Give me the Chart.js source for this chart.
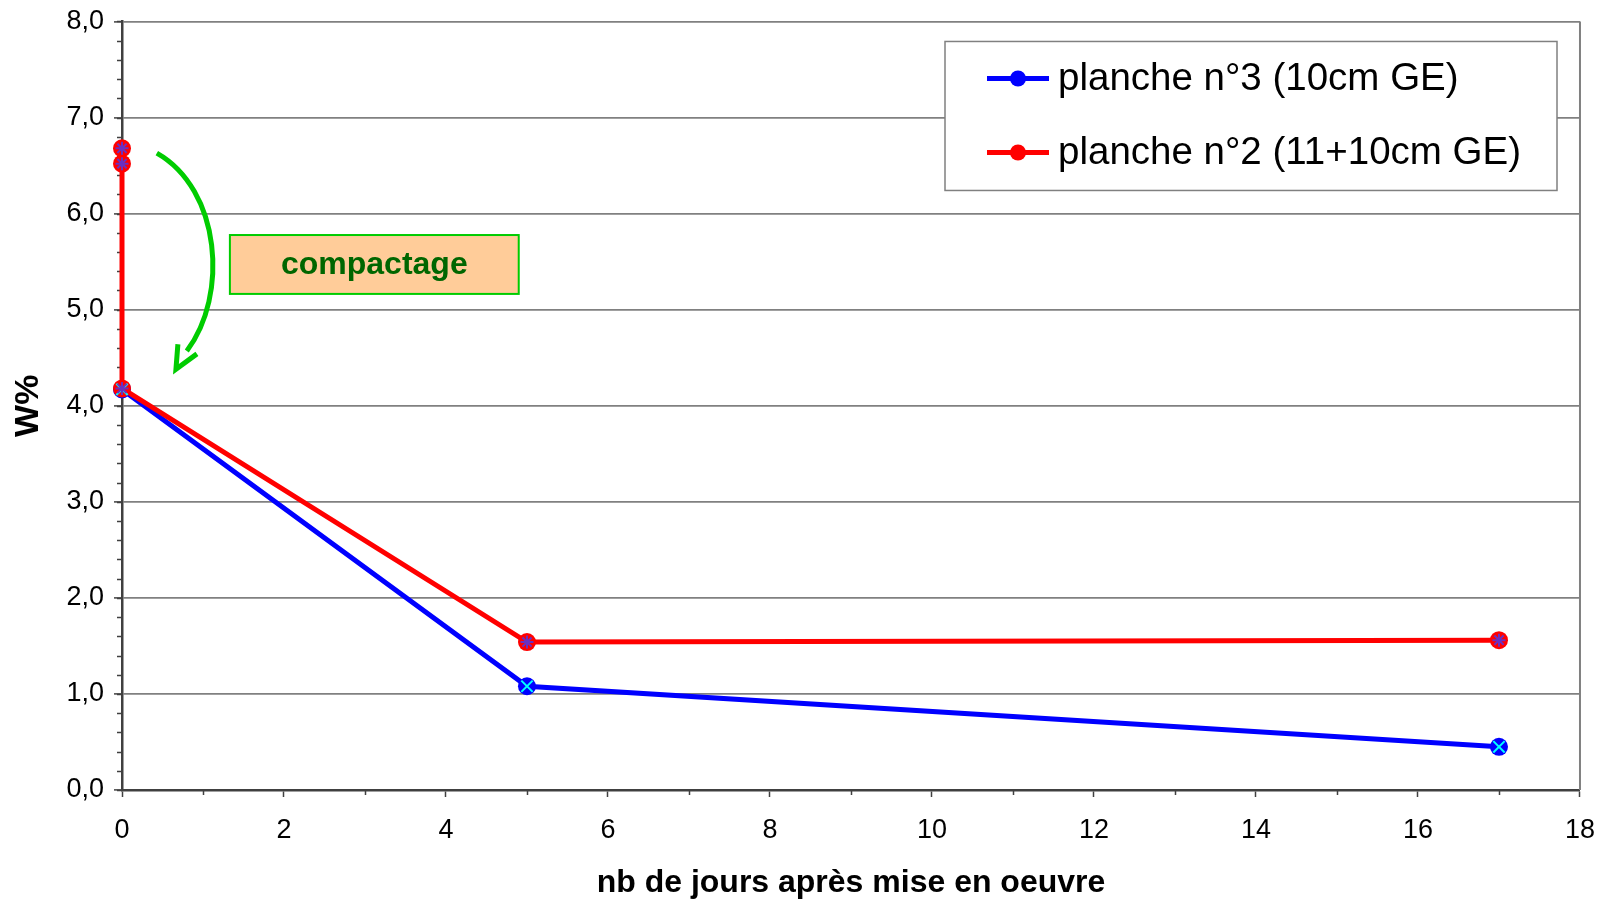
<!DOCTYPE html>
<html>
<head>
<meta charset="utf-8">
<script src="https://cdn.jsdelivr.net/npm/chart.js@4/dist/chart.umd.min.js"></script>
<style>
  html, body { margin: 0; padding: 0; background: #fff; }
  #wrap { width: 1612px; height: 901px; }
</style>
</head>
<body>
<div id="wrap"><canvas id="c" width="1612" height="901"></canvas></div>
<script>
// ---- data ----
const seriesNames = ['planche n°3 (10cm GE)', 'planche n°2 (11+10cm GE)'];
const daysP3 = [0, 5, 17];
const wP3 = [4.17, 1.08, 0.45];
const daysP2 = [0, 0, 0, 5, 17];
const wP2 = [6.68, 6.52, 4.18, 1.54, 1.56];
const yTicks = [0, 1, 2, 3, 4, 5, 6, 7, 8];
const xTicks = [0, 2, 4, 6, 8, 10, 12, 14, 16, 18];
const xTitle = 'nb de jours après mise en oeuvre';
const yTitle = 'W%';
const noteText = 'compactage';

const toPts = (xs, ys) => xs.map((x, i) => ({x: x, y: ys[i]}));
const FONT = "'Liberation Sans', Arial, sans-serif";

const decorPlugin = {
  id: 'decor',
  beforeDatasetsDraw(chart) {
    const {ctx, chartArea: a, scales: {x, y}} = chart;
    ctx.save();
    // right border
    ctx.strokeStyle = '#808080';
    ctx.lineWidth = 2;
    ctx.beginPath();
    ctx.moveTo(a.right, a.top);
    ctx.lineTo(a.right, a.bottom);
    ctx.stroke();
    // minor ticks
    ctx.strokeStyle = '#404040';
    ctx.lineWidth = 1.5;
    ctx.beginPath();
    for (let v = 0; v <= 8.0001; v += 0.2) {
      const py = Math.round(y.getPixelForValue(v)) + 0.5;
      ctx.moveTo(a.left - 5, py);
      ctx.lineTo(a.left, py);
    }
    for (let v = 1; v < 18; v += 2) {
      const px = Math.round(x.getPixelForValue(v)) + 0.5;
      ctx.moveTo(px, a.bottom);
      ctx.lineTo(px, a.bottom + 5);
    }
    ctx.stroke();
    ctx.restore();
  },
  afterDatasetsDraw(chart) {
    const {ctx, chartArea: a, scales: {x, y}} = chart;
    ctx.save();
    // green curved arrow (data coordinates)
    const P = (dx, dy) => [x.getPixelForValue(dx), y.getPixelForValue(dy)];
    const p0 = P(0.43, 6.63), c1 = P(1.22, 6.25), c2 = P(1.32, 5.15), p3 = P(0.80, 4.57);
    const tip = P(0.666, 4.38), b1 = P(0.69, 4.64), b2 = P(0.925, 4.54);
    ctx.strokeStyle = '#00CC00';
    ctx.lineWidth = 5;
    ctx.lineCap = 'butt';
    ctx.beginPath();
    ctx.moveTo(p0[0], p0[1]);
    ctx.bezierCurveTo(c1[0], c1[1], c2[0], c2[1], p3[0], p3[1]);
    ctx.stroke();
    ctx.beginPath();
    ctx.moveTo(b1[0], b1[1]);
    ctx.lineTo(tip[0], tip[1]);
    ctx.lineTo(b2[0], b2[1]);
    ctx.stroke();
    // compactage box
    const bx1 = x.getPixelForValue(1.332), bx2 = x.getPixelForValue(4.898);
    const by1 = y.getPixelForValue(5.777), by2 = y.getPixelForValue(5.164);
    ctx.fillStyle = '#FFCC99';
    ctx.fillRect(bx1, by1, bx2 - bx1, by2 - by1);
    ctx.strokeStyle = '#00CC00';
    ctx.lineWidth = 2;
    ctx.strokeRect(bx1, by1, bx2 - bx1, by2 - by1);
    ctx.fillStyle = '#006600';
    ctx.font = 'bold 32px ' + FONT;
    ctx.textAlign = 'center';
    ctx.textBaseline = 'middle';
    ctx.fillText(noteText, (bx1 + bx2) / 2, (by1 + by2) / 2 + 1);

    // legend box
    const lx = a.left + 823, ly = a.top + 20, lw = 612, lh = 149;
    ctx.fillStyle = '#ffffff';
    ctx.fillRect(lx, ly, lw, lh);
    ctx.strokeStyle = '#808080';
    ctx.lineWidth = 1.5;
    ctx.strokeRect(lx, ly, lw, lh);
    [0, 1].forEach((i) => {
      const ds = chart.data.datasets[i];
      const cy = ly + 37 + i * 74;
      ctx.strokeStyle = ds.borderColor;
      ctx.lineWidth = 5;
      ctx.beginPath();
      ctx.moveTo(lx + 42, cy);
      ctx.lineTo(lx + 104, cy);
      ctx.stroke();
      ctx.fillStyle = ds.pointBackgroundColor;
      ctx.beginPath();
      ctx.arc(lx + 73, cy, 8, 0, Math.PI * 2);
      ctx.fill();
      ctx.fillStyle = '#000';
      ctx.font = '38.5px ' + FONT;
      ctx.textAlign = 'left';
      ctx.textBaseline = 'middle';
      ctx.fillText(ds.label, lx + 113, cy + 1);
    });
    ctx.restore();
  }
};

new Chart(document.getElementById('c'), {
  type: 'scatter',
  data: {
    datasets: [
      {
        label: seriesNames[0],
        data: toPts(daysP3, wP3),
        showLine: true,
        clip: false,
        borderColor: '#0000FF',
        backgroundColor: '#0000FF',
        pointBackgroundColor: '#0000FF',
        pointBorderWidth: 0,
        borderWidth: 5,
        pointRadius: 9,
        tension: 0,
        order: 3
      },
      {
        label: seriesNames[1],
        data: toPts(daysP2, wP2),
        showLine: true,
        clip: false,
        borderColor: '#FF0000',
        backgroundColor: '#FF0000',
        pointBackgroundColor: '#FF0000',
        pointBorderWidth: 0,
        borderWidth: 5,
        pointRadius: 9,
        tension: 0,
        order: 2
      },
      {
        label: 'x3',
        data: toPts(daysP3, wP3),
        showLine: false,
        clip: false,
        pointStyle: 'crossRot',
        pointRadius: 8,
        pointBorderColor: '#00FFFF',
        pointBorderWidth: 2,
        order: 1
      },
      {
        label: 'x2',
        data: toPts(daysP2, wP2),
        showLine: false,
        clip: false,
        pointStyle: 'star',
        pointRadius: 6.5,
        pointBorderColor: '#6A2FC0',
        pointBorderWidth: 2,
        order: 0
      }
    ]
  },
  options: {
    responsive: false,
    animation: false,
    layout: { padding: { top: 0, right: 31, left: 0, bottom: 0 } },
    plugins: {
      legend: { display: false },
      tooltip: { enabled: false }
    },
    scales: {
      x: {
        type: 'linear',
        min: 0, max: 18,
        afterBuildTicks: (s) => { s.ticks = xTicks.map(v => ({value: v})); },
        afterFit: (s) => { s.height = 111; },
        grid: {
          drawOnChartArea: false,
          drawTicks: true,
          tickLength: 7,
          tickColor: '#404040',
          tickWidth: 1.5
        },
        border: { display: true, color: '#404040', width: 2.5 },
        ticks: {
          color: '#000',
          font: { family: FONT, size: 27 },
          padding: 17,
          maxRotation: 0,
          autoSkip: false
        },
        title: {
          display: true,
          text: xTitle,
          color: '#000',
          font: { family: FONT, size: 32, weight: 'bold', lineHeight: 1.1 },
          padding: { top: 0, bottom: 0 }
        }
      },
      y: {
        type: 'linear',
        min: 0, max: 8,
        afterBuildTicks: (s) => { s.ticks = yTicks.map(v => ({value: v})); },
        afterFit: (s) => { s.width = 122; },
        grid: {
          color: '#808080',
          lineWidth: 1.8,
          drawTicks: true,
          tickLength: 8,
          tickColor: '#404040',
          tickWidth: 1.5
        },
        border: { display: true, color: '#404040', width: 2.5 },
        ticks: {
          color: '#000',
          font: { family: FONT, size: 27, lineHeight: 0.85 },
          padding: 10,
          callback: (v) => Number(v).toFixed(1).replace('.', ',')
        },
        title: {
          display: true,
          text: yTitle,
          color: '#000',
          font: { family: FONT, size: 34, weight: 'bold' },
          padding: { top: 8, bottom: 0 }
        }
      }
    }
  },
  plugins: [decorPlugin]
});
</script>
</body>
</html>
